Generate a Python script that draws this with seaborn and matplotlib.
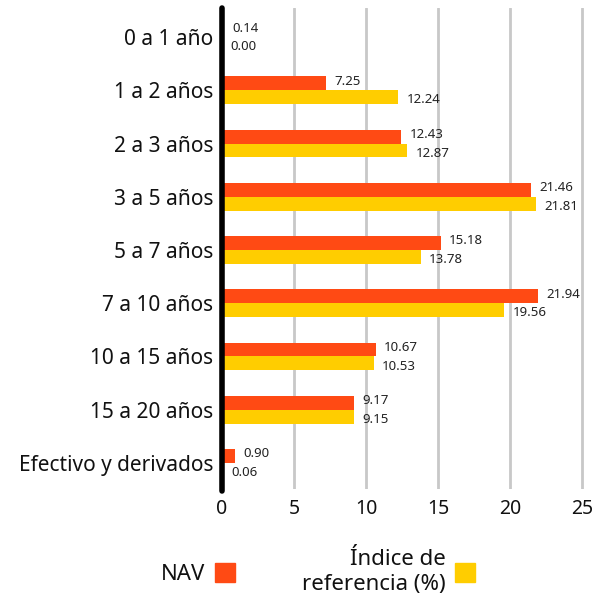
import pandas as pd
import matplotlib
matplotlib.use("Agg")
import matplotlib.pyplot as plt
import seaborn as sns

# Datos
categorias = [
    "0 a 1 año", "1 a 2 años", "2 a 3 años", "3 a 5 años", "5 a 7 años",
    "7 a 10 años", "10 a 15 años", "15 a 20 años", "Efectivo y derivados",
]
nav = [0.14, 7.25, 12.43, 21.46, 15.18, 21.94, 10.67, 9.17, 0.90]
indice = [0.00, 12.24, 12.87, 21.81, 13.78, 19.56, 10.53, 9.15, 0.06]
series = ["NAV", "Índice de\nreferencia (%)"]
colores = ["#FF4A14", "#FFCD00"]
x_ticks = [0, 5, 10, 15, 20, 25]

df = pd.DataFrame({
    "categoria": categorias * 2,
    "valor": nav + indice,
    "serie": [series[0]] * len(nav) + [series[1]] * len(indice),
})

sns.set_style("white")
plt.rcParams["font.family"] = ["Noto Sans", "DejaVu Sans"]

fig = plt.figure(figsize=(6.08, 5.99), dpi=100)
ax = fig.add_axes([0.365, 0.1836, 0.6, 0.803])

sns.barplot(
    data=df, y="categoria", x="valor", hue="serie",
    palette=colores, saturation=1, orient="h", width=0.52,
    linewidth=0, ax=ax, legend=False,
)

# etiquetas de valor, un poco separadas entre las dos series
for cont, dy in zip(ax.containers, [1.5, -2]):
    labels = ax.bar_label(cont, fmt="%.2f", padding=6, fontsize=9.5, color="#222222")
    for t in labels:
        t.xyann = (t.xyann[0], dy)

ax.set_xlim(0, 25.3)
ax.set_ylim(8.49, -0.545)
ax.set_xticks(x_ticks)
ax.set_xlabel("")
ax.set_ylabel("")
ax.tick_params(axis="x", length=0, pad=7, labelsize=14, labelcolor="#111111")
ax.tick_params(axis="y", length=0, pad=6, labelsize=15, labelcolor="#111111")
ax.xaxis.grid(True, color="#c8c8c8", linewidth=2)
ax.set_axisbelow(True)
for s in ["top", "right", "bottom", "left"]:
    ax.spines[s].set_visible(False)
ax.axvline(0, ymin=-0.005, ymax=1.0, color="black", linewidth=4, clip_on=False, zorder=5)

# Leyenda
handles = [plt.Rectangle((0, 0), 1, 1, color=c) for c in colores]
leg = fig.legend(
    handles, series, loc="center", bbox_to_anchor=(0.523, 0.045), ncol=2,
    frameon=False, markerfirst=False, fontsize=16, handlelength=0.9,
    handleheight=0.9, columnspacing=3.0, handletextpad=0.45,
    labelspacing=0.2,
)
for t in leg.get_texts():
    t.set_multialignment("right")
    t.set_color("#111111")

fig.savefig("out.png", dpi=100)
